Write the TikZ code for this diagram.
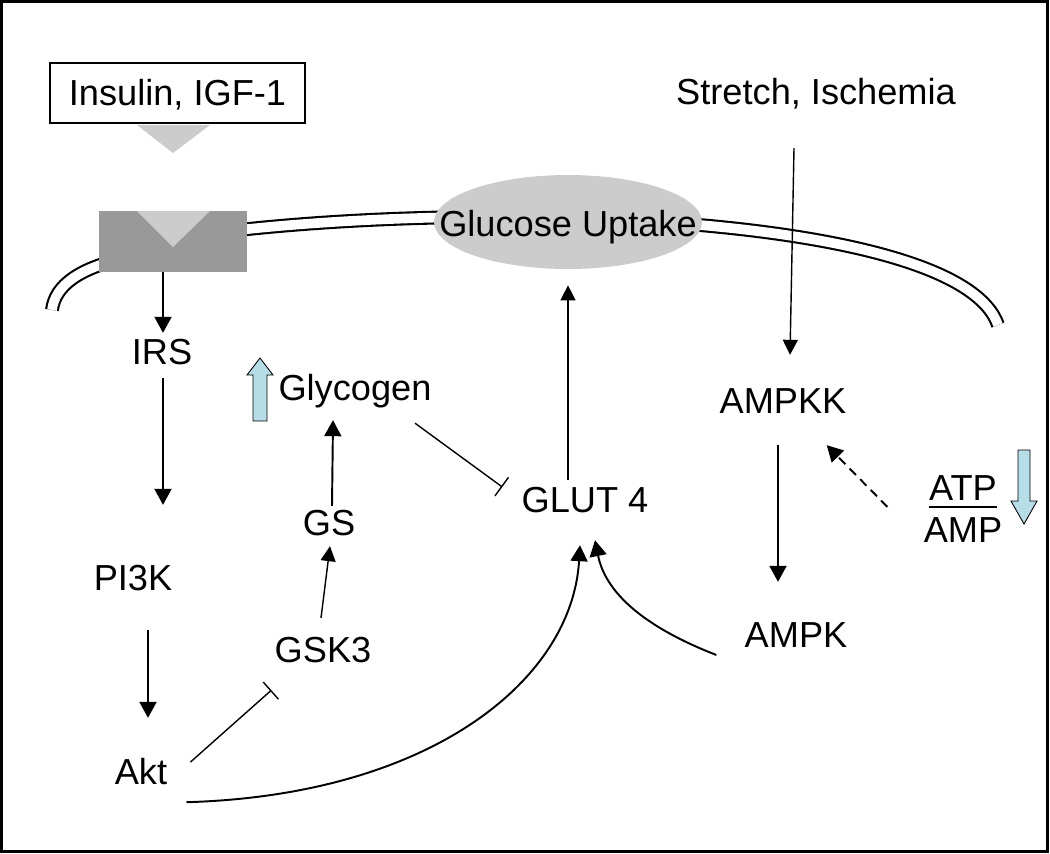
\documentclass[tikz,border=0pt]{standalone}
\usepackage{fontspec}
\setmainfont{Liberation Sans}
\usepackage{xcolor}
\usetikzlibrary{arrows.meta,shapes.geometric}
\definecolor{recepgray}{HTML}{999999}
\definecolor{ligandgray}{HTML}{CCCCCC}
\definecolor{upblue}{HTML}{B7DDE8}

\begin{document}
\begin{tikzpicture}[x=0.02cm,y=-0.02cm,
    lbl/.style={font=\fontsize{20.6}{24}\selectfont, inner sep=0pt, text height=14.6pt, text depth=0pt},
    act/.style={-{Triangle[width=0.34cm,length=0.32cm]}, line width=1.1pt},
    thinact/.style={-{Triangle[width=0.3cm,length=0.3cm]}, line width=0.8pt},
    inh/.style={-{Bar[width=0.46cm]}, line width=0.8pt},
    dashact/.style={act, dash pattern=on 0.18cm off 0.12cm},
    membrane/.style={double, double distance=5.5pt, line width=1.2pt},
    blockarr/.style={fill=upblue, draw=black, line width=0.5pt}]
                \useasboundingbox (0,0) rectangle (1050,853);
                \draw [line width=1.2pt] (1.5,1.5) rectangle (1047.5,851.5);
                \draw [membrane] (52,310) .. controls (55,285) and (80,268) .. (125,258);
                \draw [membrane] (230,231) .. controls (500,200) and (960,215) .. (998,325);
                \node [lbl, draw, line width=1pt, minimum width=5.1cm, minimum height=1.2cm] (ins) at (177.5,93) {Insulin, IGF-1};
                \fill [ligandgray] (137,125) -- (210,125) -- (173,153) -- cycle;
                \node [fill=recepgray, inner sep=0pt, minimum width=2.96cm, minimum height=1.22cm] (recep) at (173,241.5) {};
                \fill [ligandgray] (137,211) -- (210,211) -- (173,247) -- cycle;
                \node [ellipse, fill=ligandgray, inner sep=0pt, minimum width=5.36cm, minimum height=1.88cm] (uptake) at (568,222) {};
                \node [lbl] (uptaketxt) at (568,224) {Glucose Uptake};
                \node [lbl] (stretch) at (816,92) {Stretch, Ischemia};
                \node [lbl] (irs) at (162,352) {IRS};
                \node [lbl] (pi3k) at (133,578) {PI3K};
                \node [lbl] (akt) at (141,772) {Akt};
                \node [lbl] (glyc) at (355,388) {Glycogen};
                \node [lbl] (gs) at (329,523) {GS};
                \node [lbl] (gsk) at (323,650) {GSK3};
                \node [lbl] (glut) at (585,500) {GLUT 4};
                \node [lbl] (ampkk) at (783,401) {AMPKK};
                \node [lbl] (ampk) at (796,635) {AMPK};
                \node [lbl] (atp) at (963,488) {ATP};
                \node [lbl] (amp) at (963,530) {AMP};
                \draw [line width=1.1pt] ([shift={(0,6)}]atp.south west) -- ([shift={(0,6)}]atp.south east);
                \draw [blockarr] (253,421) -- (253,375) -- (247,375) -- (260,358) -- (273,375) -- (267,375) -- (267,421) -- cycle;
                \draw [blockarr] (1018,450) -- (1018,501) -- (1011,501) -- (1024,524) -- (1037,501) -- (1030,501) -- (1030,450) -- cycle;
                \draw [act] ([shift={(-10,0)}]recep.south) -- ([shift={(1,-6)}]irs.north);
                \draw [act] ([shift={(1,13)}]irs.south) -- ([shift={(30,-60)}]pi3k.north);
                \draw [act] ([shift={(15,39)}]pi3k.south) -- ([shift={(7,-41)}]akt.north);
                \draw [thinact] ([shift={(-2,-19)}]gsk.north) -- ([shift={(1,10)}]gs.south);
                \draw [act] ([shift={(3,-4)}]gs.north) -- ([shift={(-22,19)}]glyc.south);
                \draw [inh] ([shift={(60,22)}]glyc.south) -- ([shift={(-19,-13)}]glut.west);
                \draw [thinact] ([shift={(-17,-7)}]glut.north) -- ([shift={(0,16)}]uptake.south);
                \draw [thinact] ([shift={(-22,43)}]stretch.south) -- ([shift={(7,-33)}]ampkk.north);
                \draw [act] ([shift={(-5,31)}]ampkk.south) -- ([shift={(-18,-40)}]ampk.north);
                \draw [dashact] ([shift={(-36,-23)}]amp.west) -- ([shift={(-20,31)}]ampkk.south east);
                \draw [inh] ([shift={(23,-10)}]akt.east) -- ([shift={(-3,27)}]gsk.south west);
                \draw [act] ([shift={(19,17)}]akt.south east) .. controls +(244,-7) and +(-8,135) .. ([shift={(-5,32)}]glut.south);
                \draw [act] ([shift={(-28,20)}]ampk.west) .. controls +(-77,-30) and +(10,50) .. ([shift={(10,27)}]glut.south);
\end{tikzpicture}
\end{document}
